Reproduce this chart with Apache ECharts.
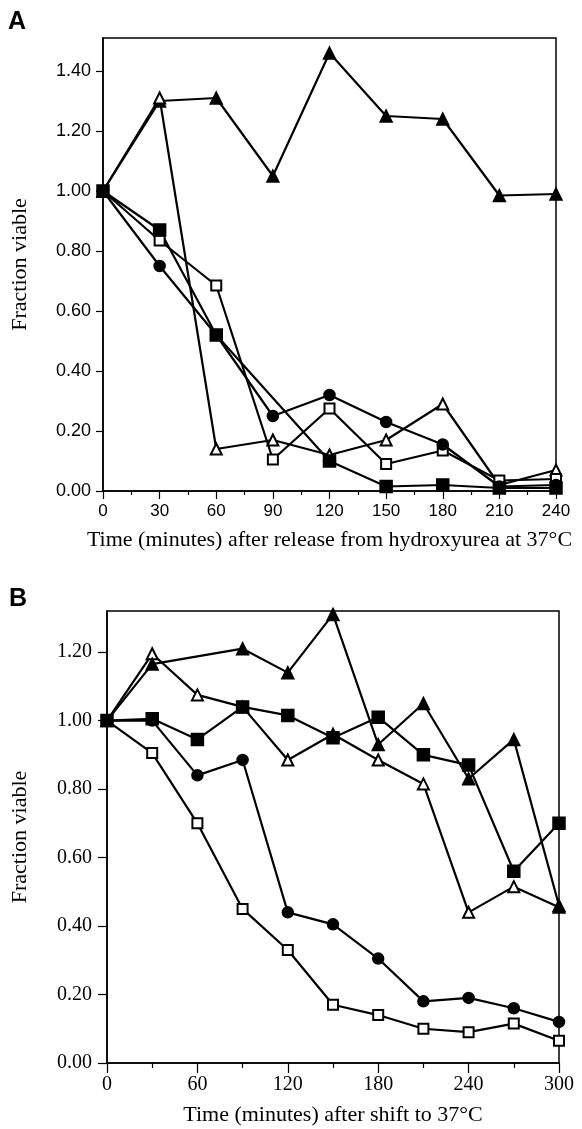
<!DOCTYPE html>
<html>
<head>
<meta charset="utf-8">
<script src="https://cdn.jsdelivr.net/npm/echarts@6.0.0/dist/echarts.min.js"></script>
<style>
  html, body { margin: 0; padding: 0; background: #fff; }
  #chart { width: 582px; height: 1129px; }
</style>
</head>
<body>
<div id="chart"></div>
<script>
// panel A: release from hydroxyurea
var timesA = [0, 30, 60, 90, 120, 150, 180, 210, 240];
var filledTriA = [1.00, 1.30, 1.31, 1.05, 1.46, 1.25, 1.24, 0.985, 0.99];
var openTriA = [1.00, 1.31, 0.14, 0.17, 0.12, 0.17, 0.29, 0.02, 0.07];
var openSqA = [1.00, 0.835, 0.685, 0.105, 0.275, 0.09, 0.135, 0.035, 0.04];
var circleA = [1.00, 0.75, 0.52, 0.25, 0.32, 0.23, 0.155, 0.015, 0.02];
var filledSqA = [1.00, 0.87, 0.52, null, 0.10, 0.015, 0.02, 0.01, 0.01];

// panel B: shift to 37C
var timesB = [0, 30, 60, 90, 120, 150, 180, 210, 240, 270, 300];
var filledTriB = [1.00, 1.165, null, 1.21, 1.14, 1.31, 0.93, 1.05, 0.83, 0.945, 0.46];
var openTriB = [1.00, 1.195, 1.075, 1.04, 0.885, 0.96, 0.885, 0.815, 0.44, 0.515, 0.455];
var filledSqB = [1.00, 1.005, 0.945, 1.04, 1.015, 0.95, 1.01, 0.90, 0.87, 0.56, 0.70];
var circleB = [1.00, 1.00, 0.84, 0.885, 0.44, 0.405, 0.305, 0.18, 0.19, 0.16, 0.12];
var openSqB = [1.00, 0.905, 0.70, 0.45, 0.33, 0.17, 0.14, 0.10, 0.09, 0.115, 0.065];

// ticks
var yTicksA = [0, 0.2, 0.4, 0.6, 0.8, 1.0, 1.2, 1.4];
var yTicksB = [0, 0.2, 0.4, 0.6, 0.8, 1.0, 1.2];
var xMinorA = [15, 45, 75, 105, 135, 165, 195, 225];
var xMinorB = [30, 90, 150, 210, 270];

var sans = "'Liberation Sans', Arial, sans-serif";
var serif = "'Liberation Serif', 'Times New Roman', serif";

function pairs(xs, ys) {
  return xs.map(function (x, i) {
    return [x, ys[i]];
  });
}

function mkSeries(idx, xs, ys, symbol, size) {
  return {
    type: "line",
    xAxisIndex: idx * 2,
    yAxisIndex: idx,
    data: pairs(xs, ys),
    connectNulls: true,
    symbol: symbol,
    symbolSize: size,
    showAllSymbol: true,
    animation: false,
    lineStyle: { color: "#000", width: 2.2 },
    itemStyle: { color: "#000", borderColor: "#000", borderWidth: 1.5 },
  };
}

function mainX(gridIndex, max, interval, font, size, name, nameGap, tickLen) {
  return {
    type: "value",
    gridIndex: gridIndex,
    min: 0,
    max: max,
    interval: interval,
    name: name,
    nameLocation: "middle",
    nameGap: nameGap,
    nameTextStyle: { fontFamily: serif, fontSize: 22, color: "#000" },
    splitLine: { show: false },
    axisLine: { onZero: false, lineStyle: { color: "#000", width: 1.5 } },
    axisTick: { length: tickLen, lineStyle: { color: "#000", width: 1.2 } },
    axisLabel: { color: "#000", fontFamily: font, fontSize: size, margin: 12 },
  };
}

function minorX(gridIndex, max, values, len) {
  return {
    type: "value",
    gridIndex: gridIndex,
    min: 0,
    max: max,
    splitLine: { show: false },
    axisLine: { show: false },
    axisLabel: { show: false },
    axisTick: {
      inside: true,
      length: len,
      customValues: values,
      lineStyle: { color: "#000", width: 1.2 },
    },
  };
}

function mainY(gridIndex, max, ticks, font, size, nameGap, tickLen, margin) {
  return {
    type: "value",
    gridIndex: gridIndex,
    min: 0,
    max: max,
    name: "Fraction viable",
    nameLocation: "middle",
    nameGap: nameGap,
    nameTextStyle: { fontFamily: serif, fontSize: 22, color: "#000" },
    splitLine: { show: false },
    axisLine: { onZero: false, lineStyle: { color: "#000", width: 1.5 } },
    axisTick: {
      length: tickLen,
      customValues: ticks,
      lineStyle: { color: "#000", width: 1.2 },
    },
    axisLabel: {
      color: "#000",
      fontFamily: font,
      fontSize: size,
      margin: margin,
      customValues: ticks,
      formatter: function (v) {
        return v.toFixed(2);
      },
    },
  };
}

var chart = echarts.init(document.getElementById("chart"));
var option = {
  backgroundColor: "#fff",
  animation: false,
  grid: [
    { left: 103, top: 38, width: 453, height: 453, show: true, borderColor: "#000", borderWidth: 1.5 },
    { left: 107, top: 611, width: 452, height: 452, show: true, borderColor: "#000", borderWidth: 1.5 },
  ],
  graphic: [
    { type: "text", left: 8, top: 10, style: { text: "A", font: "bold 25px " + sans, fill: "#000" } },
    { type: "text", left: 9, top: 587, style: { text: "B", font: "bold 25px " + sans, fill: "#000" } },
  ],
  xAxis: [
    mainX(0, 240, 30, sans, 17, "Time (minutes) after release from hydroxyurea at 37°C", 38, 8),
    minorX(0, 240, xMinorA, 4),
    mainX(1, 300, 60, serif, 20, "Time (minutes) after shift to 37°C", 41, 10),
    minorX(1, 300, xMinorB, 5),
  ],
  yAxis: [
    mainY(0, 1.51, yTicksA, sans, 18, 72, 7, 12),
    mainY(1, 1.32, yTicksB, serif, 20, 76, 9, 15),
  ],
  series: [
    mkSeries(0, timesA, filledTriA, "triangle", 12),
    mkSeries(0, timesA, openTriA, "emptyTriangle", 11),
    mkSeries(0, timesA, openSqA, "emptyRect", 10),
    mkSeries(0, timesA, circleA, "circle", 11),
    mkSeries(0, timesA, filledSqA, "rect", 12),
    mkSeries(1, timesB, openSqB, "emptyRect", 10),
    mkSeries(1, timesB, circleB, "circle", 11),
    mkSeries(1, timesB, openTriB, "emptyTriangle", 11),
    mkSeries(1, timesB, filledTriB, "triangle", 12),
    mkSeries(1, timesB, filledSqB, "rect", 12),
  ],
};
chart.setOption(option);
window.addEventListener("resize", function () {
  chart.resize();
});
</script>
</body>
</html>
